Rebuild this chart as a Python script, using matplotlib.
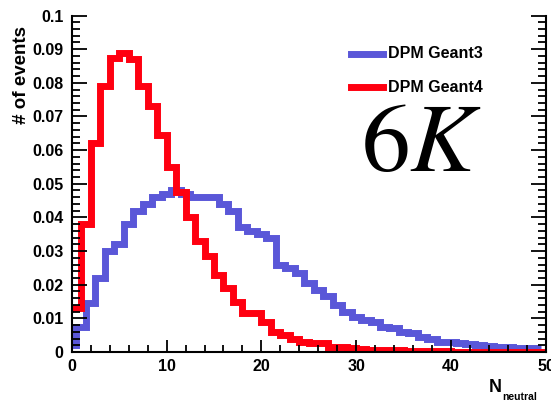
import numpy as np
import matplotlib
matplotlib.use("Agg")
import matplotlib.pyplot as plt
from matplotlib.ticker import MultipleLocator

# ---- data -------------------------------------------------------------
# DPM Geant3 : bins of width 1 centred on integers (edges k-0.5 .. k+0.5)
geant3_centers = list(range(50))
geant3_values = [0.002, 0.0075, 0.0145, 0.022, 0.030, 0.032, 0.038, 0.042, 0.044, 0.046,
                 0.047, 0.048, 0.047, 0.046, 0.046, 0.046, 0.044, 0.042, 0.037, 0.036,
                 0.035, 0.034, 0.026, 0.025, 0.0235, 0.0205, 0.0185, 0.0165, 0.014, 0.012,
                 0.0105, 0.0095, 0.009, 0.0075, 0.007, 0.006, 0.0055, 0.0045, 0.0038, 0.003,
                 0.003, 0.0027, 0.0025, 0.0022, 0.0017, 0.0016, 0.0015, 0.0013, 0.0012, 0.0011]
# DPM Geant4 : bins of width 1 with integer edges (k .. k+1)
geant4_lowedges = list(range(50))
geant4_values = [0.013, 0.038, 0.062, 0.079, 0.0875, 0.089, 0.087, 0.079, 0.073, 0.0645,
                 0.055, 0.0475, 0.040, 0.033, 0.0285, 0.023, 0.019, 0.015, 0.0115, 0.0115,
                 0.009, 0.006, 0.005, 0.004, 0.003, 0.0026, 0.0026, 0.0016, 0.0016, 0.0011,
                 0.0009, 0.0007, 0.0006, 0.0006, 0.0005, 0.0004, 0.0003, 0.0003, 0.0002, 0.0002,
                 0.0001, 0.0001, 0.0001, 0.0001, 0.0001, 0.0001, 0.0001, 0.0001, 0.0001, 0.0001]
series_labels = ["DPM Geant3", "DPM Geant4"]
x_ticks = [0, 10, 20, 30, 40, 50]
y_ticks = [0, 0.01, 0.02, 0.03, 0.04, 0.05, 0.06, 0.07, 0.08, 0.09, 0.1]
y_ticklabels = ["0", "0.01", "0.02", "0.03", "0.04", "0.05", "0.06", "0.07", "0.08", "0.09", "0.1"]

# ---- style ------------------------------------------------------------
plt.rcParams["font.family"] = ["Liberation Sans", "DejaVu Sans"]
plt.rcParams["mathtext.fontset"] = "stix"
BLUE = "#5a57d8"
RED = "#ff0010"

W, H = 551, 404
fig = plt.figure(figsize=(W / 100, H / 100), dpi=100)
L, R, B, T = 71.7, 546, 352, 15.5
ax = fig.add_axes([L / W, 1 - B / H, (R - L) / W, (B - T) / H])

g3_edges = np.concatenate([np.array(geant3_centers) - 0.5, [geant3_centers[-1] + 0.5]])
g4_edges = np.concatenate([np.array(geant4_lowedges), [geant4_lowedges[-1] + 1]])

ax.stairs(geant3_values, g3_edges, baseline=None, color=BLUE, linewidth=5,
          joinstyle="miter", label=series_labels[0])
ax.stairs(geant4_values, g4_edges, baseline=None, color=RED, linewidth=5,
          joinstyle="miter", label=series_labels[1])

ax.set_xlim(0, 50)
ax.set_ylim(0, 0.1)

ax.set_xticks(x_ticks)
ax.xaxis.set_minor_locator(MultipleLocator(2))
ax.set_yticks(y_ticks)
ax.set_yticklabels(y_ticklabels)
ax.yaxis.set_minor_locator(MultipleLocator(0.002))

ax.tick_params(axis="both", which="both", direction="in", top=False, right=True,
               labelsize=11.5, width=1.3, colors="black")
ax.tick_params(axis="y", which="major", length=11, pad=6)
ax.tick_params(axis="y", which="minor", length=6)
ax.tick_params(axis="x", which="major", length=9, pad=5)
ax.tick_params(axis="x", which="minor", length=5)
for lab in ax.get_xticklabels() + ax.get_yticklabels():
    lab.set_fontweight("bold")
for sp in ax.spines.values():
    sp.set_linewidth(1.5)
ax.spines["top"].set_visible(False)

# y label
fig.text(22 / W, 1 - 75 / H, "# of events", rotation=90, ha="center", va="center",
         fontsize=13.5, fontweight="bold")
# x label
fig.text(489 / W, 1 - 388 / H, "N", ha="left", va="center", fontsize=13, fontweight="bold")
fig.text(502 / W, 1 - 397 / H, "neutral", ha="left", va="center", fontsize=7.5, fontweight="bold")

# legend (manual)
for yy, col, lab in [(54, BLUE, series_labels[0]), (87, RED, series_labels[1])]:
    fig.add_artist(plt.Line2D([351 / W, 383 / W], [1 - yy / H, 1 - yy / H], color=col, linewidth=5))
    fig.text(388 / W, 1 - yy / H, lab, ha="left", va="center", fontsize=11.5, fontweight="bold")

fig.text(421 / W, 1 - 146 / H, r"$6K$", ha="center", va="center", fontsize=70)

fig.savefig("out.png", dpi=100)
